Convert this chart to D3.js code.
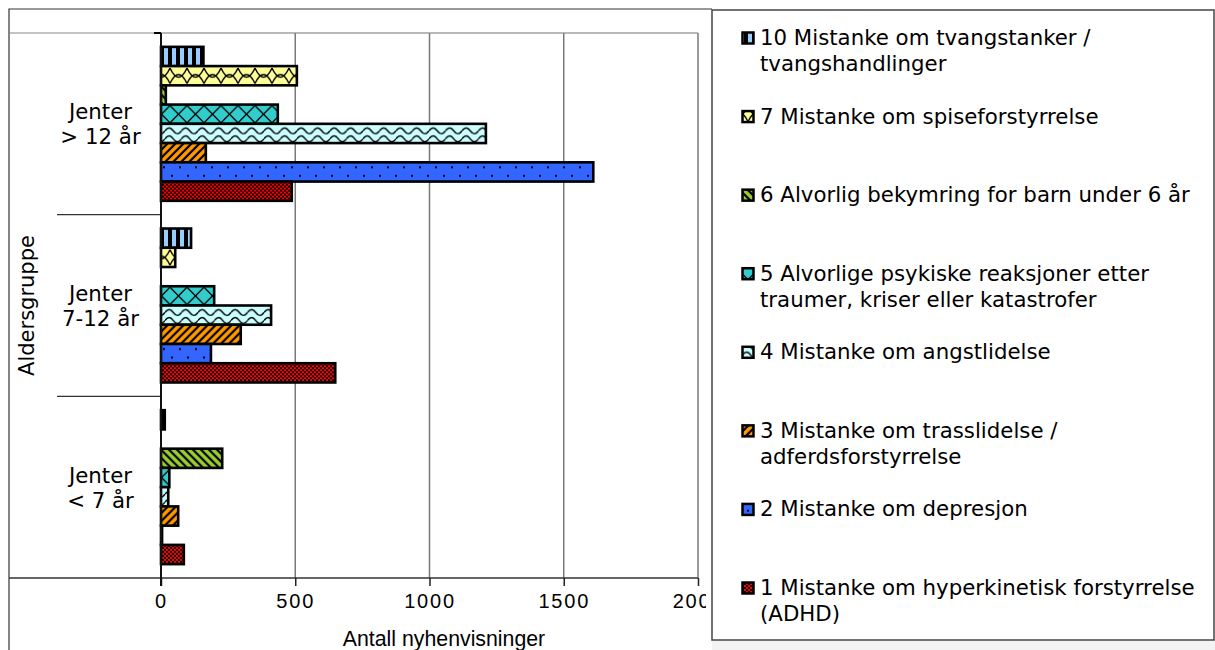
<!DOCTYPE html>
<html>
<head>
<meta charset="utf-8">
<script src="https://cdn.jsdelivr.net/npm/d3@7"></script>
<style>
  html, body { margin: 0; padding: 0; background: #fff; }
  svg { display: block; }
</style>
</head>
<body>
<svg id="chart" width="1215" height="650"></svg>
<script>
// Age groups, top to bottom
const groupIds = ["g12", "g7", "g0"];
const groupLabels = [["Jenter", "> 12 år"], ["Jenter", "7-12 år"], ["Jenter", "< 7 år"]];

// Referral reasons, in the order the bars are stacked inside each group (top to bottom)
const seriesKeys = ["s10", "s7", "s6", "s5", "s4", "s3", "s2", "s1"];
const seriesLabels = [
  ["10 Mistanke om tvangstanker /", "tvangshandlinger"],
  ["7 Mistanke om spiseforstyrrelse"],
  ["6 Alvorlig bekymring for barn under 6 år"],
  ["5 Alvorlige psykiske reaksjoner etter", "traumer, kriser eller katastrofer"],
  ["4 Mistanke om angstlidelse"],
  ["3 Mistanke om trasslidelse /", "adferdsforstyrrelse"],
  ["2 Mistanke om depresjon"],
  ["1 Mistanke om hyperkinetisk forstyrrelse", "(ADHD)"]
];

// Number of new referrals per reason: [> 12 år, 7-12 år, < 7 år]
const s10 = [158, 112, 14];
const s7  = [506, 53, 0];
const s6  = [18, 0, 228];
const s5  = [435, 198, 31];
const s4  = [1210, 410, 27];
const s3  = [167, 297, 64];
const s2  = [1610, 186, 4];
const s1  = [487, 649, 85];
const seriesValues = [s10, s7, s6, s5, s4, s3, s2, s1];

const xTicks = [0, 500, 1000, 1500, 2000];
const xTitle = "Antall nyhenvisninger";
const yTitle = "Aldersgruppe";

const verdana = "'DejaVu Sans', Verdana, sans-serif";
const arial = "'Liberation Sans', Arial, sans-serif";

const svg = d3.select("#chart");
const defs = svg.append("defs");

// ---- fill patterns (tiles are anchored at each bar's top-left) ----
function pat(id, w, h, bg) {
  const p = defs.append("pattern").attr("id", id)
    .attr("patternUnits", "userSpaceOnUse")
    .attr("width", w).attr("height", h);
  p.append("rect").attr("width", w).attr("height", h).attr("fill", bg);
  return p;
}
// 10: vertical stripes
pat("p10", 8, 8, "#99ccff").append("rect").attr("x", 0).attr("width", 4).attr("height", 8).attr("fill", "#000");
// 7: curved lattice
{
  const p = pat("p7", 17, 19.24, "#ffff99");
  p.append("path").attr("d", "M0,2 Q8.5,20 17,2 M0,17.5 Q8.5,-0.5 17,17.5")
    .attr("fill", "none").attr("stroke", "#000").attr("stroke-width", 1.4);
}
// 6: downward diagonal stripes
pat("p6", 8, 8, "#99cc33").append("path")
  .attr("d", "M-2,6 L2,10 M0,0 L8,8 M6,-2 L10,2")
  .attr("stroke", "#000").attr("stroke-width", 2.2);
// 5: large diagonal cross
{
  const p = pat("p5", 17, 19.24, "#33cccc");
  p.append("path").attr("d", "M0,1 L17,18.2 M17,1 L0,18.2")
    .attr("fill", "none").attr("stroke", "#000").attr("stroke-width", 1.3);
}
// 4: waves
{
  const p = pat("p4", 16.5, 19.24, "#ccffff");
  p.append("path").attr("d", "M0,7 Q4.1,1 8.25,7 T16.5,7 M0,15 Q4.1,9 8.25,15 T16.5,15")
    .attr("fill", "none").attr("stroke", "#000").attr("stroke-width", 1.4);
}
// 3: upward diagonal stripes
pat("p3", 8, 8, "#ff9900").append("path")
  .attr("d", "M-2,2 L2,-2 M0,8 L8,0 M6,10 L10,6")
  .attr("stroke", "#000").attr("stroke-width", 2.2);
// 2: sparse dots
{
  const p = pat("p2", 16, 19.24, "#3366ff");
  p.append("rect").attr("x", 3).attr("y", 4).attr("width", 2).attr("height", 2).attr("fill", "#000");
  p.append("rect").attr("x", 11).attr("y", 12.5).attr("width", 2).attr("height", 2).attr("fill", "#000");
}
// 1: small checkerboard
{
  const p = pat("p1", 4, 4, "#ff0000");
  p.append("rect").attr("x", 0).attr("y", 0).attr("width", 2).attr("height", 2).attr("fill", "#000");
  p.append("rect").attr("x", 2).attr("y", 2).attr("width", 2).attr("height", 2).attr("fill", "#000");
}
const patternOf = k => `url(#p${k.slice(1)})`;

// ---- frame ----
svg.append("rect").attr("x", 712).attr("y", 641).attr("width", 503).attr("height", 9).attr("fill", "#f3f3f3");
svg.append("path").attr("d", "M9,650 V9 H712").attr("fill", "none").attr("stroke", "#333").attr("stroke-width", 1.2);

// ---- scales ----
const plot = { left: 161, right: 698, top: 33, bottom: 578 };
const x = d3.scaleLinear().domain([0, 2000]).range([plot.left, plot.right]);
const y0 = d3.scaleBand().domain(groupIds).range([plot.top, plot.bottom]);
const y1 = d3.scaleBand().domain(seriesKeys).range([0, y0.bandwidth()]).paddingInner(0).paddingOuter(0.72);

defs.append("clipPath").attr("id", "chartClip")
  .append("rect").attr("x", 0).attr("y", 0).attr("width", 706).attr("height", 650);
const chart = svg.append("g").attr("clip-path", "url(#chartClip)");

// plot-area top edge
chart.append("line").attr("x1", plot.left).attr("x2", plot.right).attr("y1", plot.top).attr("y2", plot.top)
  .attr("stroke", "#b8b8b8").attr("stroke-width", 2);

// vertical gridlines
chart.append("g").selectAll("line").data(xTicks.filter(d => d > 0)).join("line")
  .attr("x1", d => x(d)).attr("x2", d => x(d))
  .attr("y1", plot.top).attr("y2", plot.bottom)
  .attr("stroke", "#7a7a7a").attr("stroke-width", 1.5);

// category dividers
const bounds = groupIds.map(g => y0(g)).concat([plot.bottom]);
chart.append("g").selectAll("line").data(bounds).join("line")
  .attr("x1", (d, i) => (i === 0 ? 9 : i === bounds.length - 1 ? 9 : 57))
  .attr("x2", (d, i) => (i === bounds.length - 1 ? plot.right : plot.left))
  .attr("y1", d => d).attr("y2", d => d)
  .attr("stroke", (d, i) => (i === 0 ? "#8a8a8a" : "#333"))
  .attr("stroke-width", (d, i) => (i === bounds.length - 1 ? 1.6 : 1.2));
chart.append("line").attr("x1", plot.left - 7).attr("x2", plot.left).attr("y1", plot.top).attr("y2", plot.top)
  .attr("stroke", "#000").attr("stroke-width", 2);

// ---- bars ----
const barData = [];
seriesKeys.forEach((k, si) => {
  groupIds.forEach((g, gi) => barData.push({ key: k, group: g, value: seriesValues[si][gi] }));
});
const bars = chart.append("g").selectAll("g").data(barData).join("g")
  .attr("transform", d => `translate(0,${y0(d.group) + y1(d.key)})`);
bars.filter(d => d.value > 0).append("rect")
  .attr("x", x(0)).attr("y", 0)
  .attr("width", d => x(d.value) - x(0))
  .attr("height", y1.bandwidth())
  .attr("fill", d => patternOf(d.key))
  .attr("stroke", "#000").attr("stroke-width", 2.6);

// ---- x axis ----
const xAxis = d3.axisBottom(x).tickValues(xTicks).tickFormat(d3.format("d"))
  .tickSize(8).tickSizeOuter(0).tickPadding(11);
const ax = chart.append("g").attr("transform", `translate(0,${plot.bottom})`).call(xAxis);
ax.select(".domain").remove();
ax.selectAll(".tick line").attr("stroke", "#222").attr("stroke-width", 1.5);
ax.selectAll(".tick text")
  .attr("font-family", arial).attr("font-size", 20).attr("fill", "#000")
  .attr("letter-spacing", "1.8px").attr("dy", "0.55em");

// value axis line
chart.append("line").attr("x1", plot.left).attr("x2", plot.left).attr("y1", plot.top).attr("y2", plot.bottom + 8)
  .attr("stroke", "#111").attr("stroke-width", 2);

// axis titles
svg.append("text").attr("x", 444).attr("y", 646).attr("text-anchor", "middle")
  .attr("font-family", arial).attr("font-size", 21.3).attr("fill", "#000").text(xTitle);
svg.append("text").attr("transform", `translate(34,${(plot.top + plot.bottom) / 2}) rotate(-90)`)
  .attr("text-anchor", "middle").attr("font-family", verdana).attr("font-size", 21).attr("fill", "#000")
  .text(yTitle);

// group labels
svg.append("g").selectAll("text").data(groupIds).join("text")
  .attr("x", 100.5)
  .attr("y", g => y0(g) + y0.bandwidth() / 2 - 4.5)
  .attr("text-anchor", "middle").attr("font-family", verdana).attr("font-size", 21.3).attr("fill", "#000")
  .each(function (g, i) {
    d3.select(this).selectAll("tspan").data(groupLabels[i]).join("tspan")
      .attr("x", 100.5).attr("dy", (d, j) => (j === 0 ? 0 : 25)).text(d => d);
  });

// ---- legend ----
svg.append("rect").attr("x", 712).attr("y", 10).attr("width", 502).attr("height", 630)
  .attr("fill", "#fff").attr("stroke", "#444").attr("stroke-width", 1.5);
const ly = d3.scaleLinear().domain([0, seriesKeys.length - 1]).range([45, 595]);
const items = svg.append("g").selectAll("g").data(seriesKeys).join("g")
  .attr("transform", (d, i) => `translate(0,${ly(i)})`);
items.append("rect").attr("x", 742.5).attr("y", -12.5).attr("width", 11).attr("height", 11)
  .attr("fill", d => patternOf(d)).attr("stroke", "#000").attr("stroke-width", 2.5);
items.append("text").attr("x", 760).attr("y", 0)
  .attr("font-family", verdana).attr("font-size", 21.3).attr("fill", "#000")
  .each(function (d, i) {
    d3.select(this).selectAll("tspan").data(seriesLabels[i]).join("tspan")
      .attr("x", 760).attr("dy", (t, j) => (j === 0 ? 0 : 26)).text(t => t);
  });
</script>
</body>
</html>
